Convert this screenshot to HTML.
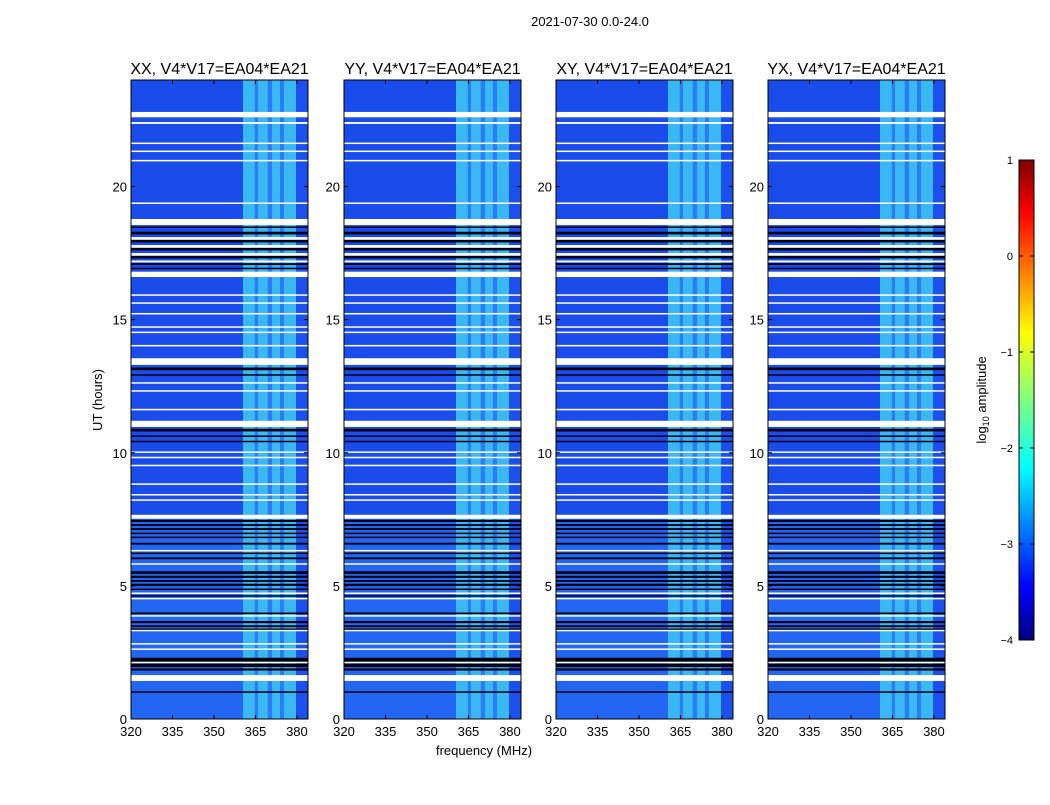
<!DOCTYPE html>
<html><head><meta charset="utf-8"><style>
body{margin:0;background:#fff;font-family:"Liberation Sans",sans-serif}
svg text{font-family:"Liberation Sans",sans-serif}
</style></head><body>
<svg id="fig" width="1050" height="800" xmlns="http://www.w3.org/2000/svg">
<defs>
<linearGradient id="jet" x1="0" y1="1" x2="0" y2="0">
<stop offset="0" stop-color="#00007f"/><stop offset="0.11" stop-color="#0000ff"/>
<stop offset="0.36" stop-color="#00ffff"/><stop offset="0.5" stop-color="#7fff7f"/>
<stop offset="0.64" stop-color="#ffff00"/><stop offset="0.89" stop-color="#ff0000"/>
<stop offset="1" stop-color="#7f0000"/></linearGradient>
</defs>
<text x="590" y="26" font-size="13" text-anchor="middle">2021-07-30 0.0-24.0</text>
<text x="484" y="755" font-size="13" text-anchor="middle">frequency (MHz)</text>
<text transform="translate(102,400) rotate(-90)" font-size="13" text-anchor="middle">UT (hours)</text>
<g id="cbar">
<rect x="1019" y="160" width="15" height="480" fill="url(#jet)" stroke="#000" stroke-width="1"/>
<text transform="translate(986,400) rotate(-90)" font-size="13" text-anchor="middle">log<tspan font-size="9" dy="3">10</tspan><tspan dy="-3"> amplitude</tspan></text>
</g>
</svg>
<script>
const panelTitles=["XX, V4*V17=EA04*EA21","YY, V4*V17=EA04*EA21","XY, V4*V17=EA04*EA21","YX, V4*V17=EA04*EA21"];
const xTicks=[320,335,350,365,380];
const yTicks=[0,5,10,15,20];
const cbTicks=[1,0,-1,-2,-3,-4];
const bandStarts=[360.5,364.8,365.9,369.5,371,373.9,375.3,379.7];
const bandEnds=[364.8,365.9,369.5,371,373.9,375.3,379.7,384];
const bandLevels=[2,1,2,1,2,1,2,0];
const whiteRows=[[22.6,22.8],[22.35,22.42],[21.6,21.65],[21.3,21.35],[20.95,21.0],[19.35,19.4],[18.55,18.78],[18.0,18.1],[17.7,17.8],[17.4,17.5],[17.15,17.22],[16.6,16.8],[15.9,15.95],[15.6,15.65],[15.2,15.25],[14.7,14.75],[14.5,14.55],[14.0,14.05],[13.3,13.55],[12.6,12.65],[12.3,12.35],[11.6,11.65],[10.97,11.2],[10.0,10.05],[9.8,9.85],[9.5,9.55],[8.8,8.85],[8.4,8.45],[8.2,8.25],[7.52,7.67],[6.3,6.35],[5.8,5.85],[4.7,4.75],[4.5,4.55],[3.85,3.9],[3.3,3.35],[2.8,2.85],[2.6,2.65],[2.1,2.15],[1.43,1.65]];
const blackRows=[[18.45,18.5],[18.2,18.3],[17.9,18.0],[17.6,17.7],[17.3,17.4],[17.05,17.12],[16.9,16.95],[13.1,13.2],[12.9,12.95],[10.8,10.9],[10.6,10.65],[10.4,10.45],[7.4,7.48],[7.25,7.32],[7.1,7.17],[6.95,7.0],[6.8,6.85],[6.55,6.62],[6.2,6.25],[6.0,6.07],[5.45,5.55],[5.3,5.38],[5.15,5.22],[5.0,5.08],[4.85,4.9],[4.6,4.65],[3.95,4.0],[3.6,3.68],[3.45,3.52],[3.35,3.4],[2.15,2.3],[1.95,2.08],[1.82,1.9],[1.0,1.04]];
const panelX=[131,344,556,768];
const PW=177,PT=80,PB=719;
const fmin=320,fmax=384,tmin=0,tmax=24;
const levelColor=l=>l>=2?"#3ab8f4":l>=1?"#2a7cf8":"#1c50ee";
const svg=document.getElementById('fig');
const NS="http://www.w3.org/2000/svg";
function mk(tag,attrs,parent){const e=document.createElementNS(NS,tag);for(const k in attrs)e.setAttribute(k,attrs[k]);(parent||svg).appendChild(e);return e;}
panelX.forEach((px,i)=>{
  const xs=f=>px+(f-fmin)/(fmax-fmin)*PW;
  const ys=t=>PB-(t-tmin)/(tmax-tmin)*(PB-PT);
  const g=mk('g',{});
  
  
  const bg=mk('rect',{x:px,y:PT,width:PW,height:PB-PT,fill:'#1a4cec'},g);
  
  
  const lr=mk('rect',{x:px,y:ys(7.5),width:PW,height:ys(0)-ys(7.5),fill:'#2466f4'},g);
  
  
  bandStarts.forEach((s,j)=>{
    const r=mk('rect',{x:xs(s),y:PT,width:xs(bandEnds[j])-xs(s),height:PB-PT,fill:levelColor(bandLevels[j])},g);
    
    
  });
  blackRows.forEach(b=>{
    const r=mk('rect',{x:px,y:ys(b[1]),width:PW,height:Math.max(1.5,ys(b[0])-ys(b[1])),fill:'#000010'},g);
    
    
  });
  whiteRows.forEach(b=>{
    const r=mk('rect',{x:px,y:ys(b[1]),width:PW,height:Math.max(1.5,ys(b[0])-ys(b[1])),fill:'#fff'},g);
    
    
  });
  mk('rect',{x:px,y:PT,width:PW,height:PB-PT,fill:'none',stroke:'#000','stroke-width':1},g);
  const t=mk('text',{x:px+PW/2,y:PT-6,'font-size':16,'text-anchor':'middle'},g);t.textContent=panelTitles[i];
  
  
  xTicks.forEach(v=>{
    const x=xs(v);
    mk('line',{x1:x,x2:x,y1:PB,y2:PB-4,stroke:'#000'},g);mk('line',{x1:x,x2:x,y1:PT,y2:PT+4,stroke:'#000'},g);
    const l=mk('text',{x:x,y:PB+17,'font-size':13,'text-anchor':'middle'},g);l.textContent=v;
    
    
  });
  yTicks.forEach(v=>{
    const y=ys(v);
    mk('line',{x1:px,x2:px+4,y1:y,y2:y,stroke:'#000'},g);mk('line',{x1:px+PW,x2:px+PW-4,y1:y,y2:y,stroke:'#000'},g);
    const l=mk('text',{x:px-4,y:y+5,'font-size':13,'text-anchor':'end'},g);l.textContent=v;
    
    
  });
});
const cb=document.getElementById('cbar');
cbTicks.forEach(v=>{
  const y=160+(1-v)/5*480;
  mk('line',{x1:1019,x2:1023,y1:y,y2:y,stroke:'#000'},cb);mk('line',{x1:1034,x2:1030,y1:y,y2:y,stroke:'#000'},cb);
  const l=mk('text',{x:1013,y:y+4,'font-size':11,'text-anchor':'end'},cb);l.textContent=v<0?'\u2212'+(-v):v;
  
  
});
</script>
</body></html>
